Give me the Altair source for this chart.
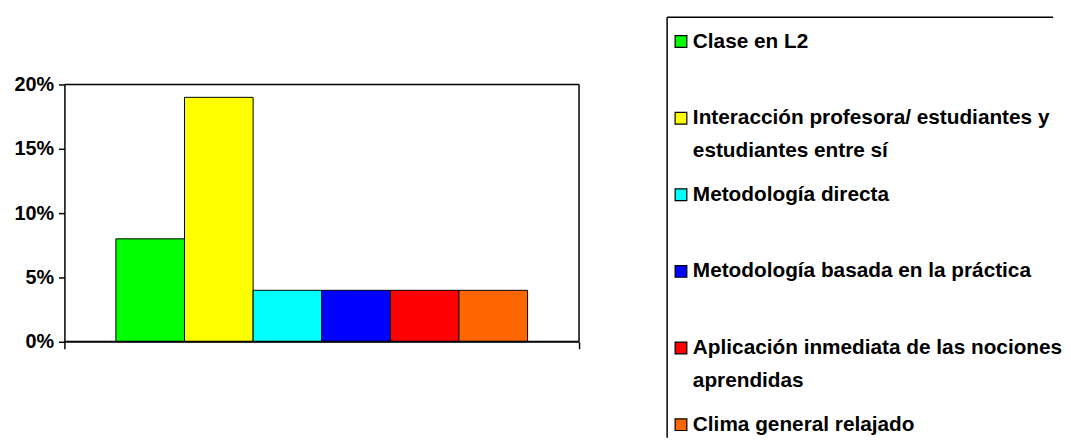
import altair as alt
import pandas as pd

# ---- data ----
series = [
    "Clase en L2",
    "Interacción profesora/ estudiantes y estudiantes entre sí",
    "Metodología directa",
    "Metodología basada en la práctica",
    "Aplicación inmediata de las nociones aprendidas",
    "Clima general relajado",
]
values = [0.08, 0.19, 0.04, 0.04, 0.04, 0.04]
colors = ["#00FF00", "#FFFF00", "#00FFFF", "#0000FF", "#FF0000", "#FF6600"]
legend_lines = [
    ["Clase en L2"],
    ["Interacción profesora/ estudiantes y", "estudiantes entre sí"],
    ["Metodología directa"],
    ["Metodología basada en la práctica"],
    ["Aplicación inmediata de las nociones", "aprendidas"],
    ["Clima general relajado"],
]
y_ticks = [0, 0.05, 0.10, 0.15, 0.20]
y_max = 0.20

FONT = "Liberation Sans"

df = pd.DataFrame({"serie": series, "valor": values})
leg_df = pd.DataFrame({"serie": series, "etiqueta": ["\n".join(l) for l in legend_lines]})
one = pd.DataFrame({"k": [0]})

color_scale = alt.Scale(domain=series, range=colors)

BW, BH = 520, 328          # bar panel (plot frame occupies lower 260 px)
y_scale = alt.Scale(domain=[0, y_max], range=[BH, BH - 260])

bars = alt.Chart(df).mark_bar(stroke="black", strokeWidth=1).encode(
    x=alt.X("serie:N", sort=series,
            scale=alt.Scale(paddingInner=0, paddingOuter=0.75), axis=None),
    y=alt.Y("valor:Q", title=None, scale=y_scale,
            axis=alt.Axis(format=".0%", values=y_ticks, grid=False,
                          domainColor="black", domainWidth=1.5,
                          tickColor="black", tickWidth=1.5, tickSize=6,
                          labelFont=FONT, labelFontSize=20, labelFontWeight="bold",
                          labelColor="black", labelPadding=5)),
    color=alt.Color("serie:N", scale=color_scale, legend=None),
)

top_rule = alt.Chart(one).mark_rule(color="black", strokeWidth=1.5).encode(
    x=alt.X(datum=0, type="quantitative", title=None,
            scale=alt.Scale(domain=[0, 1], nice=False),
            axis=alt.Axis(orient="bottom", values=[0, 1], labels=False, domain=False,
                          grid=False, tickColor="black", tickWidth=1.5, tickSize=7)),
    x2=alt.datum(1), y=alt.datum(y_max),
)
bottom_rule = alt.Chart(one).mark_rule(color="black", strokeWidth=2).encode(
    x=alt.X(datum=0, type="quantitative"), x2=alt.datum(1), y=alt.datum(0)
)
right_rule = alt.Chart(one).mark_rule(color="black", strokeWidth=1.5).encode(
    x=alt.X(datum=1, type="quantitative"), y=alt.datum(0), y2=alt.datum(y_max)
)
frame = alt.layer(top_rule, bottom_rule, right_rule)

bar_panel = alt.layer(bars, frame).resolve_scale(x="independent").properties(
    width=BW, height=BH,
    view=alt.ViewBackground(stroke="transparent"),
)

LW, LH = 390, 425

base = alt.Chart(leg_df).encode(
    y=alt.Y("serie:N", sort=series,
            scale=alt.Scale(type="point", padding=0.245, align=0.65), axis=None)
)
swatch = base.mark_point(shape="square", filled=True, size=140, stroke="black",
                         strokeWidth=1.2, opacity=1).encode(
    x=alt.value(14),
    color=alt.Color("serie:N", scale=color_scale, legend=None),
)
labels = base.mark_text(align="left", baseline="middle", font=FONT, fontSize=21,
                        fontWeight="bold", lineBreak="\n", lineHeight=33,
                        color="black").encode(
    x=alt.value(26), text="etiqueta:N"
)
top_border = alt.Chart(one).mark_rule(color="black", strokeWidth=1.5).encode(
    x=alt.value(0), x2=alt.value("width"), y=alt.value(0)
)
left_border = alt.Chart(one).mark_rule(color="black", strokeWidth=1.5).encode(
    x=alt.value(0), y=alt.value(0), y2=alt.value("height")
)
legend = alt.layer(top_border, left_border, swatch, labels).properties(
    width=LW, height=LH,
    view=alt.ViewBackground(stroke="transparent"),
)

chart = alt.hconcat(bar_panel, legend, spacing=85).properties(
    padding={"left": 5, "top": 5, "right": 0, "bottom": 0},
    background="white",
)

chart.save("out.html", embed_options={"renderer": "svg", "actions": False})
